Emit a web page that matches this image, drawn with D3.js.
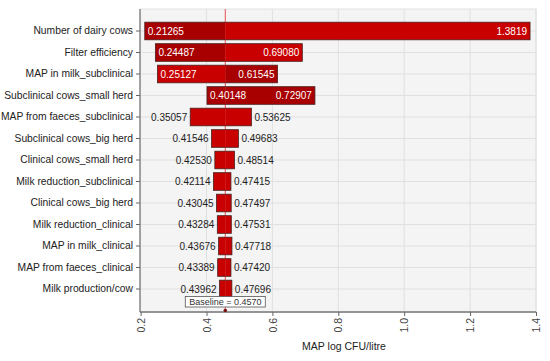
<!DOCTYPE html>
<html lang="en">
<head>
<meta charset="UTF-8">
<script src="https://d3js.org/d3.v7.min.js"></script>
<style>
    body { margin: 0; background: #fff; }
    text { font-family: "Liberation Sans", Arial, sans-serif; }
</style>
</head>
<body>
<svg></svg>
<script>
    // tornado data
    let inputs = ["Number of dairy cows", "Filter efficiency", "MAP in milk_subclinical",
        "Subclinical cows_small herd", "MAP from faeces_subclinical", "Subclinical cows_big herd",
        "Clinical cows_small herd", "Milk reduction_subclinical", "Clinical cows_big herd",
        "Milk reduction_clinical", "MAP in milk_clinical", "MAP from faeces_clinical",
        "Milk production/cow"];
    let lowValues = [0.21265, 0.24487, 0.25127, 0.40148, 0.35057, 0.41546, 0.42530,
        0.42114, 0.43045, 0.43284, 0.43676, 0.43389, 0.43962];
    let highValues = [1.3819, 0.69080, 0.61545, 0.72907, 0.53625, 0.49683, 0.48514,
        0.47415, 0.47497, 0.47531, 0.47718, 0.47420, 0.47696];
    // which half of the bar is the darker shade (left / right of baseline)
    let leftShade = ["dark", "dark", "light", "dark", "light", "light", "light",
        "light", "light", "light", "light", "light", "light"];
    let rightShade = ["light", "light", "dark", "dark", "light", "light", "light",
        "light", "light", "light", "light", "light", "light"];
    let baseline = 0.4570;
    let xTicks = [0.2, 0.4, 0.6, 0.8, 1.0, 1.2, 1.4];

    let width = 550, height = 361;
    let plotTop = 9, plotBottom = 312, plotLeft = 140, plotRight = 536;

    let svg = d3.select("svg")
        .attr("width", width)
        .attr("height", height);

    let x = d3.scaleLinear().domain([0.2, 1.4]).range([140.6, 536]);
    let y = d3.scaleBand().domain(inputs).range([20.25, 299.75])
        .paddingInner(0.18).paddingOuter(0.09);
    let shade = { dark: "#a80000", light: "#c80000" };

    let rows = inputs.map((name, i) => ({
        name: name, low: lowValues[i], high: highValues[i],
        left: leftShade[i], right: rightShade[i]
    }));

    // plot background
    svg.append("rect")
        .attr("x", plotLeft).attr("y", plotTop)
        .attr("width", plotRight - plotLeft).attr("height", plotBottom - plotTop)
        .attr("fill", "#f4f4f4")
        .attr("stroke", "#e2e2e2");

    // grid
    svg.append("g").selectAll("line")
        .data(xTicks)
        .join("line")
        .attr("x1", d => x(d)).attr("x2", d => x(d))
        .attr("y1", plotTop).attr("y2", plotBottom)
        .attr("stroke", "#e0e0e0");
    svg.append("g").selectAll("line")
        .data(inputs)
        .join("line")
        .attr("x1", plotLeft).attr("x2", plotRight)
        .attr("y1", d => y(d) + y.bandwidth() / 2).attr("y2", d => y(d) + y.bandwidth() / 2)
        .attr("stroke", "#e0e0e0");

    // baseline line
    svg.append("line")
        .attr("x1", x(baseline)).attr("x2", x(baseline))
        .attr("y1", plotTop).attr("y2", plotBottom)
        .attr("stroke", "#e85050")
        .attr("stroke-width", 1);

    // bars, split at the baseline
    let bars = svg.append("g").selectAll("g")
        .data(rows)
        .join("g");

    bars.append("rect")
        .attr("x", d => x(d.low))
        .attr("y", d => y(d.name))
        .attr("width", d => x(baseline) - x(d.low))
        .attr("height", y.bandwidth())
        .attr("fill", d => shade[d.left]);
    bars.append("rect")
        .attr("x", d => x(baseline))
        .attr("y", d => y(d.name))
        .attr("width", d => x(d.high) - x(baseline))
        .attr("height", y.bandwidth())
        .attr("fill", d => shade[d.right]);
    bars.append("rect")
        .attr("x", d => x(d.low))
        .attr("y", d => y(d.name))
        .attr("width", d => x(d.high) - x(d.low))
        .attr("height", y.bandwidth())
        .attr("fill", "none")
        .attr("stroke", "#4a2020")
        .attr("stroke-width", 0.8);

    // value labels: inside in white for wide bars, outside otherwise
    let inside = d => x(d.high) - x(d.low) > 80;
    bars.append("text")
        .attr("x", d => inside(d) ? x(d.low) + 3 : x(d.low) - 3)
        .attr("y", d => y(d.name) + y.bandwidth() / 2)
        .attr("dy", "0.35em")
        .attr("text-anchor", d => inside(d) ? "start" : "end")
        .attr("fill", d => inside(d) ? "#fff" : "#222")
        .style("font-size", "10px")
        .text(d => d.low.toFixed(5));
    bars.append("text")
        .attr("x", d => inside(d) ? x(d.high) - 3 : x(d.high) + 3)
        .attr("y", d => y(d.name) + y.bandwidth() / 2)
        .attr("dy", "0.35em")
        .attr("text-anchor", d => inside(d) ? "end" : "start")
        .attr("fill", d => inside(d) ? "#fff" : "#222")
        .style("font-size", "10px")
        .text(d => d.high >= 1 ? d.high.toFixed(4) : d.high.toFixed(5));

    // y axis
    let yAxis = svg.append("g")
        .attr("transform", "translate(" + plotLeft + ",0)")
        .call(d3.axisLeft(y).tickSize(4).tickPadding(3));
    yAxis.select(".domain").attr("d", "M0," + plotTop + "V" + plotBottom)
        .attr("stroke", "#8a8a8a").attr("stroke-width", 1.5);
    yAxis.selectAll(".tick line").attr("stroke", "#666");
    yAxis.selectAll(".tick text")
        .style("font-size", "10.3px")
        .attr("fill", "#222")
        .style("font-family", "'Liberation Sans', Arial, sans-serif");

    // x axis
    let xAxis = svg.append("g")
        .attr("transform", "translate(0," + plotBottom + ")")
        .call(d3.axisBottom(x).tickValues(xTicks).tickSize(4).tickFormat(d3.format(".1f")));
    xAxis.select(".domain").attr("d", "M" + plotLeft + ",0H" + plotRight)
        .attr("stroke", "#777").attr("stroke-width", 1.5);
    xAxis.selectAll(".tick line").attr("stroke", "#666");
    xAxis.selectAll(".tick text")
        .attr("transform", "rotate(-90)")
        .attr("x", -6).attr("y", 0).attr("dy", "0.35em")
        .attr("text-anchor", "end")
        .attr("fill", "#444")
        .style("font-size", "10.5px")
        .style("font-family", "'Liberation Sans', Arial, sans-serif");

    svg.append("text")
        .attr("x", 344).attr("y", 350)
        .attr("text-anchor", "middle")
        .attr("fill", "#222")
        .style("font-size", "10.5px")
        .text("MAP log CFU/litre");

    // baseline label and marker
    let bx = x(baseline);
    svg.append("rect")
        .attr("x", bx - 40).attr("y", 296.5)
        .attr("width", 80).attr("height", 10.5)
        .attr("fill", "#fff")
        .attr("stroke", "#555")
        .attr("stroke-width", 0.8);
    svg.append("text")
        .attr("x", bx).attr("y", 301.8)
        .attr("dy", "0.35em")
        .attr("text-anchor", "middle")
        .attr("fill", "#333")
        .style("font-size", "9px")
        .text("Baseline = " + baseline.toFixed(4));
    svg.append("circle")
        .attr("cx", bx).attr("cy", 310.5).attr("r", 1.8)
        .attr("fill", "#7a1010");
</script>
</body>
</html>
